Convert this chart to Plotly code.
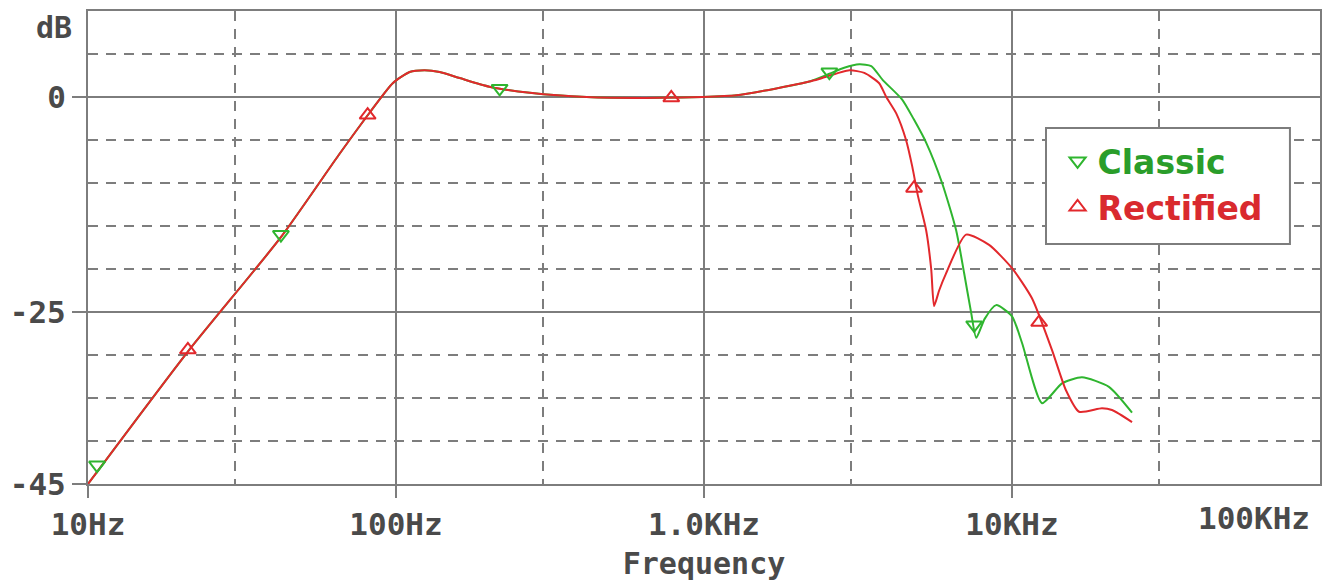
import plotly.graph_objects as go

# ---- data ----
classic_freq = [10, 21.1, 42.3, 65.6, 82.2, 97.6, 110.7, 123.8, 138.6, 161, 201, 272, 416, 717, 988, 1274, 1718, 2198,
                2553, 2853, 3193, 3492, 3800, 4400, 4800, 5263, 5929, 6586, 6993, 7370, 7656, 8150, 8880, 10000,
                10780, 12520, 14530, 16870, 20640, 24530]
classic_db = [-45, -29.6, -16.3, -6.6, -1.8, 1.6, 2.9, 3.1, 2.9, 2.2, 1.2, 0.5, 0, -0.1, 0, 0.2, 1.0, 1.8,
              2.7, 3.4, 3.8, 3.6, 2.0, -0.3, -2.6, -5.3, -10.0, -15.5, -20.5, -25.1, -28.0, -25.8, -24.2, -25.5,
              -28.6, -35.6, -33.3, -32.6, -33.7, -36.7]

rectified_freq = [10, 21.1, 42.3, 65.6, 82.2, 97.6, 110.7, 123.8, 138.6, 161, 201, 272, 416, 717, 988, 1274, 1718, 2198,
                  2366, 2965, 3315, 3705, 3906, 4209, 4529, 4745, 4950, 5263, 5466, 5585, 5800, 6109, 7093, 8426,
                  10000, 11610, 13480, 14970, 16510, 19600, 21120, 24530]
rectified_db = [-45, -29.6, -16.3, -6.6, -1.8, 1.6, 2.9, 3.1, 2.9, 2.2, 1.2, 0.5, 0, -0.1, 0, 0.2, 1.0, 1.8,
                2.1, 3.1, 2.8, 1.6, 0, -1.9, -5.0, -8.1, -11.5, -15.5, -20.0, -24.3, -22.5, -20.5, -16.0, -17.2,
                -19.9, -23.4, -29.4, -34.1, -36.6, -36.2, -36.4, -37.8]

classic_mark_freq = [10.7, 42.3, 217, 2553, 7535]
classic_mark_db = [-42.8, -16.0, 1.0, 2.9, -26.5]
rectified_mark_freq = [21.1, 80.9, 783, 4808, 12250]
rectified_mark_db = [-29.4, -2.1, -0.1, -10.6, -26.2]

x_tick_vals = [10, 100, 1000, 10000]
x_tick_text = ["10Hz", "100Hz", "1.0KHz", "10KHz"]
x_minor_vals = [30, 300, 3000, 30000]
y_tick_vals = [0, -25, -45]
y_tick_text = ["0", "-25", "-45"]
y_minor_vals = [5, -5, -10, -15, -20, -30, -35, -40]

GREEN = "#2fb52f"
RED = "#e2282c"
GRID = "#7d7d7d"
TXT = "#4a4a4a"
MONO = "DejaVu Sans Mono"

fig = go.Figure()
fig.add_trace(go.Scatter(x=classic_freq, y=classic_db, mode="lines",
                         line=dict(color=GREEN, width=2, shape="spline", smoothing=0.6),
                         showlegend=False, hoverinfo="skip"))
fig.add_trace(go.Scatter(x=rectified_freq, y=rectified_db, mode="lines",
                         line=dict(color=RED, width=2, shape="spline", smoothing=0.6),
                         showlegend=False, hoverinfo="skip"))
fig.add_trace(go.Scatter(x=classic_mark_freq, y=classic_mark_db, mode="markers",
                         marker=dict(symbol="triangle-down-open", size=14, color=GREEN, line=dict(width=2, color=GREEN)),
                         name='<span style="color:#2a9d2a"><b>Classic</b></span>'))
fig.add_trace(go.Scatter(x=rectified_mark_freq, y=rectified_mark_db, mode="markers",
                         marker=dict(symbol="triangle-up-open", size=14, color=RED, line=dict(width=2, color=RED)),
                         name='<span style="color:#d92a2e"><b>Rectified</b></span>'))

# the page body has an 8px margin, so the figure is drawn 8px in from the window edges
fig.update_layout(
    width=1324, height=577,
    margin=dict(l=80, r=12, t=3, b=101, autoexpand=False),
    paper_bgcolor="white", plot_bgcolor="white",
    showlegend=True,
    legend=dict(x=0.787, y=0.742, xanchor="left", yanchor="top",
                bgcolor="rgba(0,0,0,0)", borderwidth=0,
                font=dict(family="DejaVu Sans", size=33),
                itemwidth=30),
    shapes=[dict(type="rect", xref="paper", yref="paper", x0=0.7776, x1=0.9756, y0=0.5074, y1=0.7526,
                 fillcolor="white", line=dict(color=GRID, width=2), layer="above")],
    xaxis=dict(type="log", range=[1, 5], tickvals=x_tick_vals, ticktext=x_tick_text, automargin=False,
               showgrid=True, gridcolor=GRID, gridwidth=2,
               showline=True, linecolor=GRID, linewidth=2, mirror=True,
               ticks="outside", ticklen=12, tickwidth=2, tickcolor=GRID,
               tickfont=dict(family=MONO, size=31, color=TXT, weight="bold"),
               minor=dict(tickvals=x_minor_vals, showgrid=True, gridcolor=GRID, gridwidth=2,
                          griddash="10px,8px", ticks=""),
               title=dict(text="Frequency", font=dict(family=MONO, size=30, color=TXT, weight="bold"),
                          standoff=12),
               zeroline=False),
    yaxis=dict(range=[-45, 10], tickvals=y_tick_vals, ticktext=y_tick_text, automargin=False,
               showgrid=True, gridcolor=GRID, gridwidth=2,
               showline=True, linecolor=GRID, linewidth=2, mirror=True,
               ticks="outside", ticklen=14, tickwidth=2, tickcolor=GRID,
               tickfont=dict(family=MONO, size=31, color=TXT, weight="bold"),
               minor=dict(tickvals=y_minor_vals, showgrid=True, gridcolor=GRID, gridwidth=2,
                          griddash="10px,8px", ticks=""),
               zeroline=False),
    annotations=[
        dict(text="dB", xref="paper", yref="paper", x=0, y=1, xanchor="right", yanchor="top",
             xshift=-14, yshift=3, showarrow=False,
             font=dict(family=MONO, size=30, color=TXT, weight="bold")),
        dict(text="100KHz", xref="paper", yref="paper", x=1, y=0, xanchor="right", yanchor="top",
             xshift=-8, yshift=-14, showarrow=False,
             font=dict(family=MONO, size=31, color=TXT, weight="bold")),
    ],
)

fig.write_html("out.html")
